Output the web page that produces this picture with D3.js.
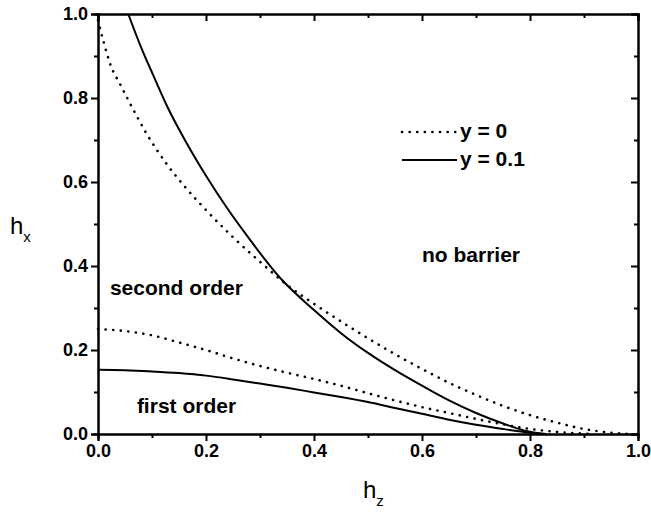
<!DOCTYPE html>
<html>
<head>
<meta charset="utf-8">
<script src="https://cdn.jsdelivr.net/npm/d3@7"></script>
<style>
  body { margin: 0; background: #fff; }
  text { font-family: "Liberation Sans", Arial, sans-serif; }
</style>
</head>
<body>
<svg class="chart"></svg>
<script>
// curves: [hz, hx]
var upperDotted = [[0, 0.985], [0.01, 0.935], [0.024, 0.876], [0.04, 0.835], [0.054, 0.80], [0.09, 0.715],
  [0.126, 0.645], [0.16, 0.59], [0.198, 0.536], [0.248, 0.471], [0.3, 0.41], [0.35, 0.355], [0.4, 0.31],
  [0.45, 0.268], [0.5, 0.228], [0.55, 0.19], [0.6, 0.155], [0.65, 0.122], [0.7, 0.093], [0.75, 0.067],
  [0.8, 0.045], [0.85, 0.027], [0.9, 0.012], [0.95, 0.003], [0.985, 0]];
var upperSolid = [[0.056, 1.0], [0.08, 0.92], [0.102, 0.855], [0.13, 0.775], [0.164, 0.693], [0.2, 0.615],
  [0.239, 0.538], [0.28, 0.465], [0.337, 0.372], [0.4, 0.295], [0.45, 0.24], [0.5, 0.193], [0.55, 0.152],
  [0.6, 0.115], [0.65, 0.08], [0.7, 0.05], [0.75, 0.025], [0.79, 0.008], [0.83, 0]];
var lowerDotted = [[0, 0.25], [0.05, 0.245], [0.1, 0.235], [0.15, 0.218], [0.2, 0.2], [0.25, 0.18],
  [0.3, 0.162], [0.35, 0.146], [0.4, 0.131], [0.45, 0.115], [0.5, 0.097], [0.55, 0.08], [0.6, 0.064],
  [0.65, 0.05], [0.7, 0.036], [0.75, 0.023], [0.8, 0.012], [0.85, 0.005], [0.92, 0]];
var lowerSolid = [[0, 0.153], [0.05, 0.152], [0.1, 0.149], [0.15, 0.145], [0.2, 0.139], [0.25, 0.13],
  [0.3, 0.12], [0.35, 0.11], [0.4, 0.099], [0.45, 0.088], [0.5, 0.076], [0.55, 0.062], [0.6, 0.048],
  [0.65, 0.034], [0.7, 0.022], [0.75, 0.012], [0.8, 0.003], [0.82, 0]];

var majorTicks = [0, 0.2, 0.4, 0.6, 0.8, 1.0];
var minorTicks = [0.1, 0.3, 0.5, 0.7, 0.9];
var legendLabels = ["y = 0", "y = 0.1"];
var regionLabels = [
  { text: "no barrier", hz: 0.6, hx: 0.41 },
  { text: "second order", hz: 0.022, hx: 0.33 },
  { text: "first order", hz: 0.072, hx: 0.05 }
];

var svgWidth = 651, svgHeight = 512;
var plotL = 98, plotR = 638, plotT = 14, plotB = 434;

var svg = d3.select(".chart")
  .attr("width", svgWidth)
  .attr("height", svgHeight);

var xScale = d3.scaleLinear().domain([0, 1]).range([plotL, plotR]);
var yScale = d3.scaleLinear().domain([0, 1]).range([plotB, plotT]);
var fmt = d3.format(".1f");

function styleAxis(g) {
  g.select(".domain").attr("stroke", "#000").attr("stroke-width", 2);
  g.selectAll(".tick line").attr("stroke", "#000").attr("stroke-width", 2);
  g.selectAll(".tick text").attr("fill", "#000")
    .style("font-size", "18px").style("font-weight", "bold")
    .style("font-family", "'Liberation Sans', Arial, sans-serif");
}

// bottom and left: outward ticks with labels
svg.append("g").attr("transform", "translate(0," + plotB + ")")
  .call(d3.axisBottom(xScale).tickValues(majorTicks).tickFormat(fmt).tickSize(7).tickPadding(3))
  .call(styleAxis);
svg.append("g").attr("transform", "translate(0," + plotB + ")")
  .call(d3.axisBottom(xScale).tickValues(minorTicks).tickFormat("").tickSize(4))
  .call(styleAxis);
svg.append("g").attr("transform", "translate(" + plotL + ",0)")
  .call(d3.axisLeft(yScale).tickValues(majorTicks).tickFormat(fmt).tickSize(7).tickPadding(3))
  .call(styleAxis);
svg.append("g").attr("transform", "translate(" + plotL + ",0)")
  .call(d3.axisLeft(yScale).tickValues(minorTicks).tickFormat("").tickSize(4))
  .call(styleAxis);

// top and right: inward ticks, no labels
svg.append("g").attr("transform", "translate(0," + plotT + ")")
  .call(d3.axisTop(xScale).tickValues(majorTicks).tickFormat("").tickSize(-7))
  .call(styleAxis);
svg.append("g").attr("transform", "translate(0," + plotT + ")")
  .call(d3.axisTop(xScale).tickValues(minorTicks).tickFormat("").tickSize(-4))
  .call(styleAxis);
svg.append("g").attr("transform", "translate(" + plotR + ",0)")
  .call(d3.axisRight(yScale).tickValues(majorTicks).tickFormat("").tickSize(-7))
  .call(styleAxis);
svg.append("g").attr("transform", "translate(" + plotR + ",0)")
  .call(d3.axisRight(yScale).tickValues(minorTicks).tickFormat("").tickSize(-4))
  .call(styleAxis);

// curves
var line = d3.line()
  .x(function (d) { return xScale(d[0]); })
  .y(function (d) { return yScale(d[1]); })
  .curve(d3.curveMonotoneX);

var dotted = { stroke: "#000", width: 2.6, dash: "0.1,7.5", cap: "round" };
var solid = { stroke: "#000", width: 2, dash: null, cap: "butt" };

[[upperDotted, dotted], [upperSolid, solid], [lowerDotted, dotted], [lowerSolid, solid]]
  .forEach(function (c) {
    svg.append("path")
      .datum(c[0])
      .attr("d", line)
      .attr("fill", "none")
      .attr("stroke", c[1].stroke)
      .attr("stroke-width", c[1].width)
      .attr("stroke-dasharray", c[1].dash)
      .attr("stroke-linecap", c[1].cap);
  });

// legend
var legendStyles = [dotted, solid];
var legend = svg.selectAll(".legend")
  .data(legendLabels)
  .enter()
  .append("g")
  .attr("transform", function (d, i) { return "translate(402," + (132 + i * 28) + ")"; });
legend.append("line")
  .attr("x1", 0).attr("x2", 55).attr("y1", 0).attr("y2", 0)
  .attr("stroke", "#000")
  .attr("stroke-width", function (d, i) { return legendStyles[i].width; })
  .attr("stroke-dasharray", function (d, i) { return legendStyles[i].dash; })
  .attr("stroke-linecap", function (d, i) { return legendStyles[i].cap; });
legend.append("text")
  .attr("x", 58).attr("y", 6)
  .style("font-size", "21px").style("font-weight", "bold")
  .text(function (d) { return d; });

// region labels
svg.selectAll(".region")
  .data(regionLabels)
  .enter()
  .append("text")
  .attr("x", function (d) { return xScale(d.hz); })
  .attr("y", function (d) { return yScale(d.hx); })
  .style("font-size", "21px").style("font-weight", "bold")
  .text(function (d) { return d.text; });

// axis titles
var xt = svg.append("text").attr("x", 363).attr("y", 498)
  .style("font-size", "24px");
xt.append("tspan").text("h");
xt.append("tspan").attr("dy", 8).style("font-size", "15px").text("z");

var yt = svg.append("text").attr("x", 10).attr("y", 234)
  .style("font-size", "24px");
yt.append("tspan").text("h");
yt.append("tspan").attr("dy", 8).style("font-size", "15px").text("x");
</script>
</body>
</html>
